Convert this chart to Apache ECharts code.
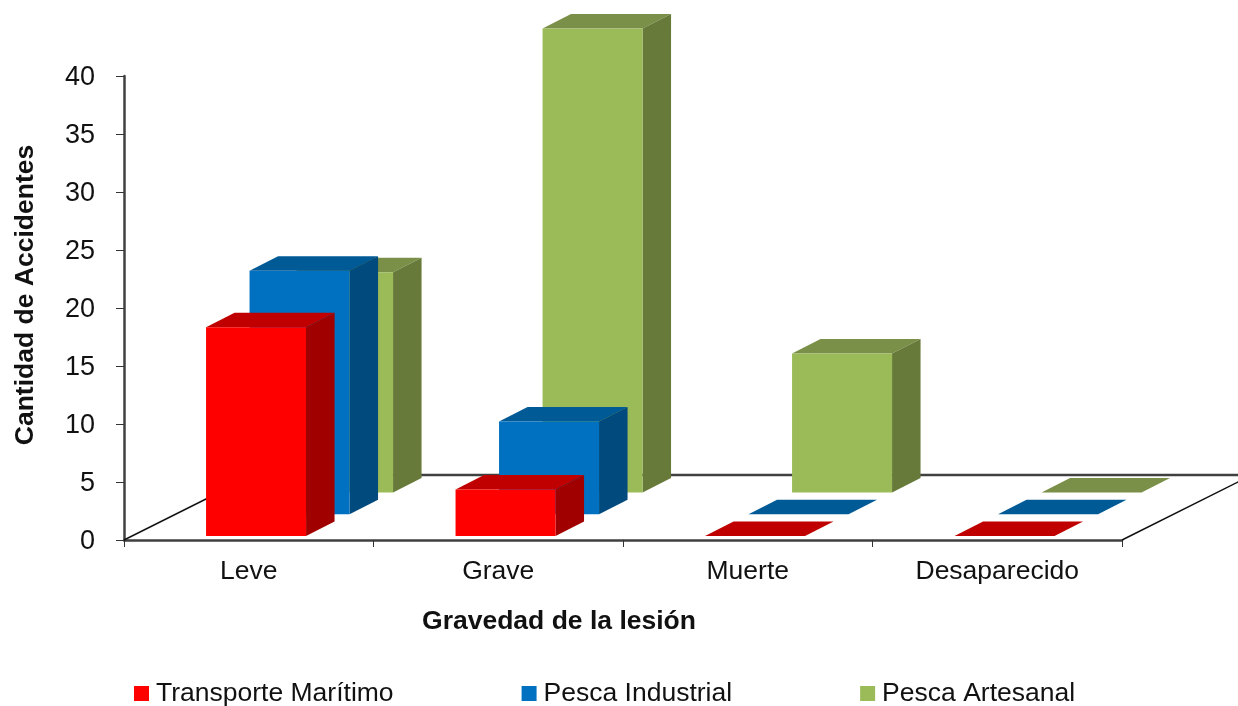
<!DOCTYPE html>
<html><head><meta charset="utf-8">
<style>html,body{margin:0;padding:0;background:#fff}#c{width:1238px;height:706px}</style>
<script src="https://cdn.jsdelivr.net/npm/echarts@6/dist/echarts.min.js"></script>
</head><body><div id="c"></div>
<script>
const categories = ['Leve', 'Grave', 'Muerte', 'Desaparecido'];
const transporteMaritimo = [18, 4, 0, 0];
const pescaIndustrial = [21, 8, 0, 0];
const pescaArtesanal = [19, 40, 12, 0];
const yTicks = { min: 0, max: 40, interval: 5 };

const FONT = '"Liberation Sans", Arial, sans-serif';
const BAR_W = 100, DX = 28.5, DY = 14.5, ROW_DX = 43.5, ROW_DY = 21.7, FRONT_GAP = 4, LEFT = -42.7;

function barRenderer(row, colors) {
  return function (params, api) {
    const cat = api.value(0), val = api.value(1);
    const c = api.coord([cat, val]), z = api.coord([cat, 0]);
    const x0 = c[0] + LEFT + row * ROW_DX, x1 = x0 + BAR_W;
    const yb = z[1] - FRONT_GAP - row * ROW_DY;
    const yt = yb - (z[1] - c[1]);
    const poly = (pts, fill) => ({ type: 'polygon', shape: { points: pts }, style: { fill: fill } });
    const kids = [poly([[x0, yt], [x0 + DX, yt - DY], [x1 + DX, yt - DY], [x1, yt]], colors.top)];
    if (val > 0) {
      kids.push(poly([[x1, yt], [x1 + DX, yt - DY], [x1 + DX, yb - DY], [x1, yb]], colors.side));
      kids.push({ type: 'rect', shape: { x: x0, y: yt, width: BAR_W, height: yb - yt }, style: { fill: colors.front } });
    }
    return { type: 'group', children: kids };
  };
}

function floorRenderer(params, api) {
  const s = params.coordSys, l = s.x, r = s.x + s.width, b = s.y + s.height;
  const dx = 130, dy = 65;
  const line = (x1, y1, x2, y2, col, w) => ({ type: 'line', shape: { x1, y1, x2, y2 }, style: { stroke: col, lineWidth: w } });
  return { type: 'group', children: [
    line(l + dx, b - dy, r + dx, b - dy, '#404040', 2.5),
    line(l, b, l + dx, b - dy, '#111', 1.5),
    line(r, b, r + dx, b - dy, '#111', 1.5)
  ] };
}

function toData(vals) { return vals.map((v, i) => [i, v]); }

const palette = [
  { front: '#FF0000', top: '#C00000', side: '#A00000' },
  { front: '#0070C0', top: '#005A96', side: '#004A7E' },
  { front: '#9BBB59', top: '#7A8F47', side: '#677A3A' }
];
const names = ['Transporte Marítimo', 'Pesca Industrial', 'Pesca Artesanal'];
const values = [transporteMaritimo, pescaIndustrial, pescaArtesanal];

const barSeries = names.map((n, i) => ({
  type: 'custom', name: n, z: 5 - i, clip: false,
  coordinateSystem: 'cartesian2d',
  renderItem: barRenderer(i, palette[i]),
  itemStyle: { color: palette[i].front },
  encode: { x: 0, y: 1 },
  data: toData(values[i])
}));

const chart = echarts.init(document.getElementById('c'));
chart.setOption({
  animation: false,
  backgroundColor: '#fff',
  grid: { left: 124, right: 116, top: 76, bottom: 166, containLabel: false },
  legend: {
    data: names, left: 129, top: 675, itemWidth: 15, itemHeight: 15, itemGap: 128, icon: 'rect',
    textStyle: { fontFamily: FONT, fontSize: 26.5, color: '#111', padding: [0, 0, 0, 2] }
  },
  xAxis: {
    type: 'category', data: categories,
    axisLine: { lineStyle: { color: '#404040', width: 2.5 } },
    axisTick: { show: true, length: 7, lineStyle: { color: '#333', width: 1 } },
    axisLabel: { fontFamily: FONT, fontSize: 26.5, color: '#111', margin: 18 },
    name: 'Gravedad de la lesión', nameLocation: 'middle', nameGap: 68,
    nameTextStyle: { fontFamily: FONT, fontSize: 26.5, fontWeight: 'bold', color: '#111', padding: [0, 128, 0, 0] }
  },
  yAxis: {
    type: 'value', min: yTicks.min, max: yTicks.max, interval: yTicks.interval,
    splitLine: { show: false },
    axisLine: { show: true, lineStyle: { color: '#404040', width: 2.5 } },
    axisTick: { show: true, length: 8, lineStyle: { color: '#333', width: 1 } },
    axisLabel: {
      fontFamily: FONT, fontSize: 27, color: '#111', margin: 29,
      formatter: '{t|{value}}',
      rich: { t: { fontFamily: FONT, fontSize: 27, color: '#111', padding: [4, 0, 0, 0] } }
    },
    name: 'Cantidad de Accidentes', nameLocation: 'middle', nameGap: 85,
    nameTextStyle: { fontFamily: FONT, fontSize: 26.5, fontWeight: 'bold', color: '#111', padding: [0, 0, 0, 26] }
  },
  series: [{
    type: 'custom', name: 'Piso', z: 1, clip: false, silent: true,
    coordinateSystem: 'cartesian2d',
    renderItem: floorRenderer, data: [[0, 0]], encode: { x: 0, y: 1 }
  }].concat(barSeries)
});
</script></body></html>
